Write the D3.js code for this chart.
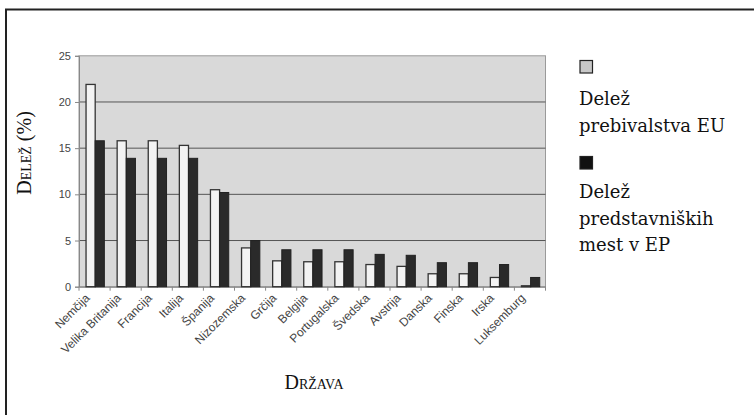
<!DOCTYPE html>
<html>
<head>
<meta charset="utf-8">
<script src="https://cdn.jsdelivr.net/npm/d3@7"></script>
<style>
  html, body { margin: 0; padding: 0; background: #fff; }
  svg { display: block; }
</style>
</head>
<body>
<svg id="chart" width="754" height="415"></svg>
<script>
// Države EU in njihovi deleži
const countries = ["Nemčija", "Velika Britanija", "Francija", "Italija", "Španija",
  "Nizozemska", "Grčija", "Belgija", "Portugalska", "Švedska", "Avstrija",
  "Danska", "Finska", "Irska", "Luksemburg"];
// Delež prebivalstva EU (%)
const populationShare = [21.9, 15.8, 15.8, 15.3, 10.5, 4.2, 2.8, 2.7, 2.7, 2.4, 2.2, 1.4, 1.4, 1.0, 0.1];
// Delež predstavniških mest v EP (%)
const seatShare = [15.8, 13.9, 13.9, 13.9, 10.2, 5.0, 4.0, 4.0, 4.0, 3.5, 3.4, 2.6, 2.6, 2.4, 1.0];
const yTicks = [0, 5, 10, 15, 20, 25];
const seriesNames = ["Delež prebivalstva EU", "Delež predstavniških mest v EP"];

const svg = d3.select("#chart");

// outer frame
svg.append("rect")
  .attr("x", 6).attr("y", 9.5)
  .attr("width", 800).attr("height", 500)
  .attr("fill", "none").attr("stroke", "#222").attr("stroke-width", 2);

const plot = { left: 79, right: 545.5, top: 55.8, bottom: 286.7 };

const x = d3.scaleBand().domain(countries).range([plot.left, plot.right]).padding(0);
const xSub = d3.scaleBand().domain(["pop", "seats"]).range([0, x.bandwidth()])
  .paddingInner(0).paddingOuter(0.7).align(0.55);
const y = d3.scaleLinear().domain([0, 25]).range([plot.bottom, plot.top]);

// plot background
svg.append("rect")
  .attr("x", plot.left).attr("y", plot.top)
  .attr("width", plot.right - plot.left).attr("height", plot.bottom - plot.top)
  .attr("fill", "#d9d9d9").attr("stroke", "#9a9a9a").attr("stroke-width", 1);

// horizontal gridlines
svg.append("g").selectAll("line")
  .data(yTicks.filter(t => t > 0 && t < 25))
  .join("line")
  .attr("x1", plot.left).attr("x2", plot.right)
  .attr("y1", d => y(d)).attr("y2", d => y(d))
  .attr("stroke", "#555").attr("stroke-width", 1);

const sans = "Arimo, 'Liberation Sans', Arial, sans-serif";

// y axis
const yAxis = svg.append("g")
  .attr("transform", `translate(${plot.left},0)`)
  .call(d3.axisLeft(y).tickValues(yTicks).tickSize(4).tickPadding(4));
yAxis.select(".domain").attr("stroke", "#888");
yAxis.selectAll(".tick line").attr("stroke", "#888");
yAxis.selectAll(".tick text")
  .attr("fill", "#444").style("font-family", sans)
  .style("font-size", "11px");

// x axis
const xAxis = svg.append("g")
  .attr("transform", `translate(0,${plot.bottom})`)
  .call(d3.axisBottom(x).tickSize(0).tickFormat(""));
xAxis.select(".domain").attr("stroke", "#777");
// tick marks between categories
svg.append("g").selectAll("line")
  .data(countries.concat(["_end"]))
  .join("line")
  .attr("x1", (d, i) => i < countries.length ? x(d) : plot.right)
  .attr("x2", (d, i) => i < countries.length ? x(d) : plot.right)
  .attr("y1", plot.bottom).attr("y2", plot.bottom + 4)
  .attr("stroke", "#888");

// category labels, rotated
svg.append("g").selectAll("text")
  .data(countries)
  .join("text")
  .attr("transform", d => `translate(${x(d) + x.bandwidth() / 2 - 4},${plot.bottom + 12}) rotate(-45)`)
  .attr("text-anchor", "end")
  .attr("fill", "#444")
  .style("font-family", sans)
  .style("font-size", "12px")
  .text(d => d);

// bars
const bars = svg.append("g");
bars.selectAll("rect.pop")
  .data(countries)
  .join("rect")
  .attr("class", "pop")
  .attr("x", d => x(d) + xSub("pop"))
  .attr("y", (d, i) => y(populationShare[i]))
  .attr("width", xSub.bandwidth())
  .attr("height", (d, i) => y(0) - y(populationShare[i]))
  .attr("fill", "#f3f3f3").attr("stroke", "#333").attr("stroke-width", 1.3);
bars.selectAll("rect.seats")
  .data(countries)
  .join("rect")
  .attr("class", "seats")
  .attr("x", d => x(d) + xSub("seats"))
  .attr("y", (d, i) => y(seatShare[i]))
  .attr("width", xSub.bandwidth())
  .attr("height", (d, i) => y(0) - y(seatShare[i]))
  .attr("fill", "#2a2a2a").attr("stroke", "#222").attr("stroke-width", 1);

// axis titles
const serif = "'Liberation Serif', 'Times New Roman', serif";
svg.append("text")
  .attr("transform", "translate(31,153) rotate(-90)")
  .attr("text-anchor", "middle")
  .style("font-family", serif).style("font-size", "20px")
  .style("font-variant", "small-caps")
  .attr("fill", "#111")
  .text("Delež (%)");
svg.append("text")
  .attr("x", 314).attr("y", 389)
  .attr("text-anchor", "middle")
  .style("font-family", serif).style("font-size", "20px")
  .style("font-variant", "small-caps")
  .attr("fill", "#111")
  .text("Država");

// legend
const legendFont = "'DejaVu Serif', serif";
const legend = [
  { fill: "#c8c8c8", top: 60.5, lines: ["Delež", "prebivalstva EU"], base: 105 },
  { fill: "#111", top: 156.5, lines: ["Delež", "predstavniških", "mest v EP"], base: 198 }
];
legend.forEach((item, k) => {
  svg.append("rect")
    .attr("x", 580).attr("y", item.top)
    .attr("width", 12.5).attr("height", 12.5)
    .attr("fill", item.fill).attr("stroke", "#222").attr("stroke-width", 1.2);
  const t = svg.append("text")
    .style("font-family", legendFont).style("font-size", "18px")
    .attr("fill", "#111")
    .attr("aria-label", seriesNames[k]);
  item.lines.forEach((ln, j) => {
    t.append("tspan").attr("x", 579).attr("y", item.base + j * 26.7).text(ln);
  });
});
</script>
</body>
</html>
